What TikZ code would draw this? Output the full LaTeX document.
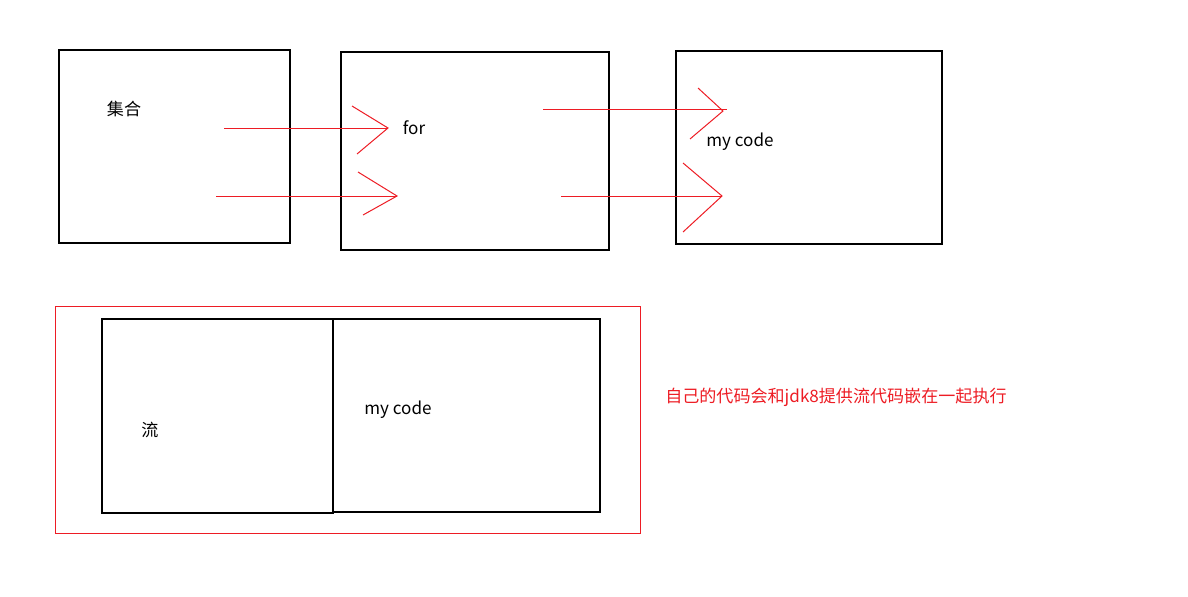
\documentclass[tikz,border=0pt]{standalone}
\usepackage{fontspec}
\setmainfont{Noto Sans CJK SC}
\definecolor{paintred}{RGB}{237,28,36}
\begin{document}
\begin{tikzpicture}[x=0.75pt,y=-0.75pt,
  box/.style={draw=black,line width=0.8pt},
  redbox/.style={draw=paintred,line width=0.75pt},
  redline/.style={draw=paintred,line width=0.75pt},
  lbl/.style={inner sep=0pt,font=\fontsize{12.8}{15}\selectfont},
]
\useasboundingbox (0,0) rectangle (1188,596);
% top row boxes
\draw[box] (59,50) rectangle (290,243);
\draw[box] (341,52) rectangle (609,250);
\draw[box] (676,51) rectangle (942,244);
\node[lbl] (jihe) at (124,109) {集合};
\node[lbl] (for) at (414,128) {for};
\node[lbl] (mycode1) at (740,142) {my code};
% arrows
\coordinate (a1s) at (224,128); \coordinate (a1t) at (388,128);
\coordinate (a1u) at (352,106); \coordinate (a1l) at (357,154);
\draw[redline] (a1s) -- (a1t);
\draw[redline] (a1u) -- (a1t) -- (a1l);
\coordinate (a2s) at (216,196); \coordinate (a2t) at (397,196);
\coordinate (a2u) at (358,172); \coordinate (a2l) at (363,215);
\draw[redline] (a2s) -- (a2t);
\draw[redline] (a2u) -- (a2t) -- (a2l);
\coordinate (a3s) at (543,109); \coordinate (a3t) at (727,109);
\coordinate (a3h) at (723,111);
\coordinate (a3u) at (698,88); \coordinate (a3l) at (690,139);
\draw[redline] (a3s) -- (a3t);
\draw[redline] (a3u) -- (a3h) -- (a3l);
\coordinate (a4s) at (561,196); \coordinate (a4t) at (721,196);
\coordinate (a4h) at (722,196);
\coordinate (a4u) at (683,163); \coordinate (a4l) at (683,232);
\draw[redline] (a4s) -- (a4t);
\draw[redline] (a4u) -- (a4h) -- (a4l);
% bottom
\draw[redbox] (55,306) rectangle (640,533);
\draw[box] (102,319) rectangle (333,513);
\draw[box] (333,319) rectangle (600,512);
\node[lbl] (liu) at (150,430) {流};
\node[lbl] (mycode2) at (398,410) {my code};
\node[lbl,text=paintred,anchor=west] (note) at (665,397) {自己的代码会和jdk8提供流代码嵌在一起执行};
\end{tikzpicture}
\end{document}
